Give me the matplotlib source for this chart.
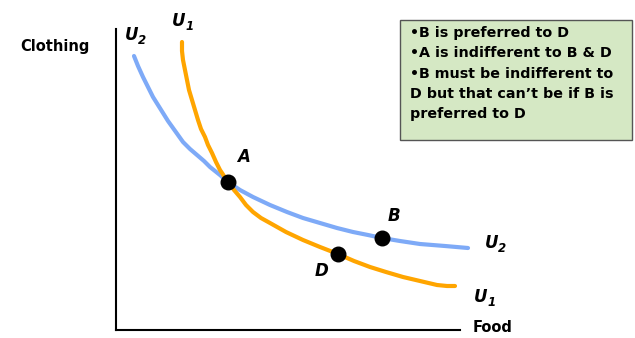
import matplotlib.pyplot as plt

# curves (image pixel units: x right, y down)
u2_x = [134, 138, 143, 148, 153, 158, 163, 168, 173, 178, 183, 190, 197, 204, 210, 220, 228,
        240, 253, 270, 287, 303, 320, 337, 353, 368, 382, 400, 420, 445, 468]
u2_y = [56, 66, 77, 87, 97, 105, 113, 121, 128, 135, 142, 149, 155, 161, 167, 175, 182,
        190, 197, 205, 212, 218, 223, 228, 232, 235, 238, 241, 244, 246, 248]
u1_x = [182, 182, 183, 185, 187, 189, 192, 195, 198, 201, 205, 208, 212, 216, 220, 224, 228,
        234, 240, 246, 253, 261, 270, 286, 303, 320, 338, 354, 370, 386, 403, 420, 437, 447, 455]
u1_y = [42, 51, 60, 70, 80, 90, 100, 110, 120, 129, 137, 145, 153, 162, 170, 176, 182,
        190, 197, 205, 212, 218, 223, 232, 240, 247, 254, 261, 267, 272, 277, 281, 285, 286, 286]

points = ['A', 'B', 'D']
pts_x = [228, 382, 338]
pts_y = [182, 238, 254]

notes = ['\u2022B is preferred to D',
         '\u2022A is indifferent to B & D',
         '\u2022B must be indifferent to',
         'D but that can\u2019t be if B is',
         'preferred to D']

blue = '#7eaaf7'
orange = '#ffa500'

fig = plt.figure(figsize=(6.35, 3.38), dpi=100)
ax = fig.add_axes([0, 0, 1, 1])
ax.set_xlim(0, 635)
ax.set_ylim(338, 0)
ax.axis('off')

# axes
ax.plot([116, 116], [29, 330], color='black', lw=1.5)
ax.plot([116, 460], [330, 330], color='black', lw=1.5)

ax.plot(u2_x, u2_y, color=blue, lw=3, solid_capstyle='round', solid_joinstyle='round')
ax.plot(u1_x, u1_y, color=orange, lw=3, solid_capstyle='round', solid_joinstyle='round')
ax.scatter(pts_x, pts_y, s=110, color='black', zorder=5)

lab = dict(fontweight='bold', fontstyle='italic', fontsize=12)
ax.text(237, 157, 'A', ha='left', va='center', **lab)
ax.text(388, 216, 'B', ha='left', va='center', **lab)
ax.text(322, 271, 'D', ha='center', va='center', **lab)


def ulabel(x, y, sub):
    ax.text(x, y, 'U', ha='left', va='center', **lab)
    ax.text(x + 13, y + 5, sub, ha='left', va='center',
            fontweight='bold', fontstyle='italic', fontsize=8.5)


ulabel(125, 35, '2')
ulabel(172, 21, '1')
ulabel(485, 243, '2')
ulabel(474, 297, '1')

ax.text(20, 47, 'Clothing', ha='left', va='center', fontweight='bold', fontsize=10.5)
ax.text(473, 328, 'Food', ha='left', va='center', fontweight='bold', fontsize=10.5)

# note box
box = plt.Rectangle((400, 20), 232, 120, facecolor='#d5e8c4', edgecolor='#555555', lw=1)
ax.add_patch(box)
for i, line in enumerate(notes):
    ax.text(410, 33 + i * 20.3, line, ha='left', va='center', fontweight='bold', fontsize=10.3)

fig.savefig('out.png', dpi=100)
